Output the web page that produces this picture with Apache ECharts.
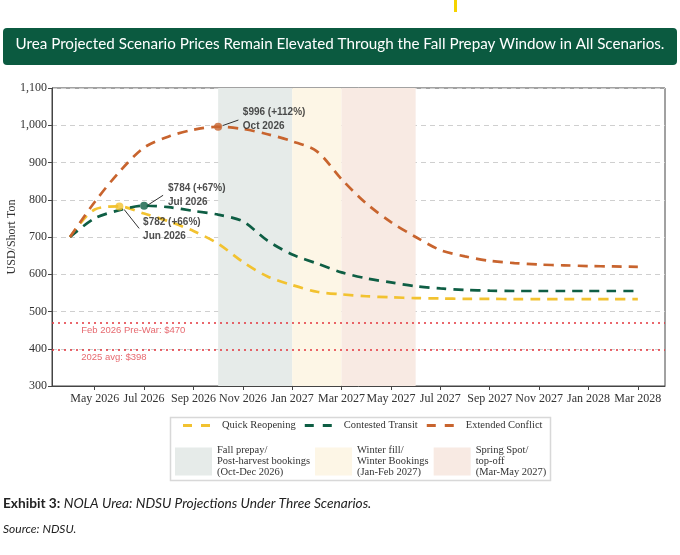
<!DOCTYPE html>
<html>
<head>
<meta charset="utf-8">
<script src="https://cdn.jsdelivr.net/npm/echarts@6/dist/echarts.min.js"></script>
<style>
  html, body { margin: 0; padding: 0; background: #fff; }
  #chart { width: 680px; height: 555px; }
</style>
</head>
<body>
<div id="chart"></div>
<script>
// months from Apr 2026 (index 0) to Mar 2028 (index 23)
var monthIdx = [0,1,2,3,4,5,6,7,8,9,10,11,12,13,14,15,16,17,18,19,20,21,22,23];
var tickVals = [1,3,5,7,9,11,13,15,17,19,21,23];
var tickLabels = ['May 2026','Jul 2026','Sep 2026','Nov 2026','Jan 2027','Mar 2027',
                  'May 2027','Jul 2027','Sep 2027','Nov 2027','Jan 2028','Mar 2028'];

var seriesNames = ['Quick Reopening','Contested Transit','Extended Conflict'];
var quick     = [700,774,782,763,742,716,682,633,594,571,553,546,541,538,536,535,534,534,533,533,533,533,533,533];
var contested = [700,750,772,784,780,770,760,742,690,653,629,605,589,578,568,562,558,556,555,555,555,555,555,555];
var extended  = [700,794,875,940,970,988,996,990,976,957,930,855,790,740,700,665,648,636,630,626,624,622,621,620];

// shaded windows [from, to] in month index
var windowNames = ['Fall prepay','Winter fill','Spring Spot'];
var windowLabels = ['Fall prepay/\nPost-harvest bookings\n(Oct-Dec 2026)',
                    'Winter fill/\nWinter Bookings\n(Jan-Feb 2027)',
                    'Spring Spot/\ntop-off\n(Mar-May 2027)'];
var windowRanges = [[6, 9], [9, 11], [11, 14]];

// reference levels
var refValues = [470, 398];
var refLabels = ['Feb 2026 Pre-War: $470', '2025 avg: $398'];

// peaks: [month index, value]
var peaks = [[2, 782], [3, 784], [6, 996]];
var peakText = ['$782 (+66%)\nJun 2026', '$784 (+67%)\nJul 2026', '$996 (+112%)\nOct 2026'];
var peakTextAt = [[2.96, 721], [3.97, 813], [7.0, 1016]];
var arrowFrom = [[2.8, 723], [3.77, 812], [6.82, 1014]];
var arrowTo = [[2.19, 774], [3.16, 786], [6.18, 999]];

var colors = ['#F2C230', '#0E5E44', '#C8642E'];
var windowColors = ['#E6EBE9', '#FDF6E6', '#F8EAE3'];

var serif = '"Liberation Serif", "DejaVu Serif", serif';
var sans = '"Liberation Sans", Arial, sans-serif';
var dashIcon = 'path://M0,0h9v3h-9z M18,0h9v3h-9z';

var chart = echarts.init(document.getElementById('chart'));

function zipLine(vals) {
    return monthIdx.map(function (m, i) { return [m, vals[i]]; });
}

var lineData = [quick, contested, extended];
var series = [];

lineData.forEach(function (vals, i) {
    var s = {
        name: seriesNames[i],
        type: 'line',
        data: zipLine(vals),
        smooth: 0.3,
        showSymbol: false,
        symbol: 'none',
        z: 3,
        itemStyle: { color: colors[i] },
        lineStyle: { color: colors[i], width: 2.7, type: [10, 7] }
    };
    if (i === 0) {
        s.markArea = {
            silent: true,
            z: 0,
            data: windowRanges.map(function (r, k) {
                return [{ xAxis: r[0], itemStyle: { color: windowColors[k] } }, { xAxis: r[1] }];
            })
        };
        s.markLine = {
            silent: true,
            symbol: 'none',
            label: { show: false },
            lineStyle: { color: '#E3343C', width: 1.5, type: [2, 4] },
            data: refValues.map(function (v) { return { yAxis: v }; })
        };
    }
    series.push(s);
});

// dummy series for the window legend
windowNames.forEach(function (n, k) {
    series.push({ name: n, type: 'bar', data: [], itemStyle: { color: windowColors[k] } });
});

// peak dots
series.push({
    type: 'scatter',
    symbolSize: 8,
    z: 5,
    data: peaks.map(function (p, i) { return { value: p, itemStyle: { color: colors[i] } }; })
});

// annotation text
series.push({
    type: 'scatter',
    symbolSize: 0,
    silent: true,
    z: 6,
    data: peakTextAt.map(function (p, i) { return { value: p, label: { formatter: peakText[i] } }; }),
    label: {
        show: true, position: 'right', distance: 0,
        fontFamily: sans, fontSize: 10, fontWeight: 'bold', color: '#222', lineHeight: 14
    },
    markLine: {
        silent: true,
        symbolSize: [0, 6],
        label: { show: false },
        lineStyle: { color: '#333', width: 1, type: 'solid' },
        data: arrowFrom.map(function (a, i) {
            return [{ coord: a, symbol: 'none' }, { coord: arrowTo[i], symbol: 'arrow' }];
        })
    }
});

// reference labels
series.push({
    type: 'scatter',
    symbolSize: 0,
    silent: true,
    data: [[0.45, 450, 0], [0.45, 377, 1]],
    label: {
        show: true, position: 'right', distance: 0,
        fontFamily: sans, fontSize: 9.5, color: '#E0434B',
        formatter: function (p) { return refLabels[p.value[2]]; }
    }
});

var option = {
    animation: false,
    backgroundColor: '#fff',
    grid: {
        left: 52, right: 15, top: 88, bottom: 169,
        outerBoundsMode: 'none',
        containLabel: false,
        show: true, borderColor: '#444', borderWidth: 1, backgroundColor: 'transparent'
    },
    xAxis: {
        type: 'value',
        min: -0.73,
        max: 24.1,
        splitLine: { show: false },
        axisLine: { show: true, onZero: false, lineStyle: { color: '#444' } },
        axisTick: { show: true, customValues: tickVals, length: 4, lineStyle: { color: '#444' } },
        axisLabel: {
            customValues: tickVals,
            fontFamily: serif, fontSize: 12, color: '#333', margin: 7,
            formatter: function (v) { return tickLabels[tickVals.indexOf(v)]; }
        }
    },
    yAxis: {
        type: 'value',
        min: 300,
        max: 1100,
        interval: 100,
        name: 'USD/Short Ton',
        nameLocation: 'middle',
        nameGap: 34,
        nameMoveOverlap: false,
        nameTextStyle: { fontFamily: serif, fontSize: 12, color: '#333' },
        axisLine: { show: true, onZero: false, lineStyle: { color: '#444' } },
        axisTick: { show: true, length: 4, lineStyle: { color: '#444' } },
        axisLabel: {
            fontFamily: serif, fontSize: 12, color: '#333', margin: 5,
            formatter: function (v) { return v.toLocaleString('en-US'); }
        },
        splitLine: { lineStyle: { color: '#cfcfcf', type: [5, 4] } }
    },
    legend: [
        {
            data: seriesNames.map(function (n) { return { name: n, icon: dashIcon }; }),
            selectedMode: false,
            left: 183, top: 420, padding: 0,
            itemWidth: 27, itemHeight: 3, itemGap: 9,
            textStyle: { fontFamily: serif, fontSize: 10.5, color: '#333', padding: [0, 0, 0, 7] }
        },
        {
            data: windowNames,
            selectedMode: false,
            left: 175, top: 445, padding: 0,
            icon: 'rect',
            itemWidth: 37, itemHeight: 28, itemGap: 5,
            formatter: function (n) { return windowLabels[windowNames.indexOf(n)]; },
            textStyle: { fontFamily: serif, fontSize: 10.5, color: '#333', lineHeight: 11 }
        }
    ],
    graphic: [
        { type: 'rect', left: 454, top: 0, shape: { width: 3, height: 12 }, style: { fill: '#F5D300' } },
        {
            type: 'rect', left: 3, top: 28,
            shape: { width: 674, height: 37, r: 4 },
            style: { fill: '#0B5A40' }
        },
        {
            type: 'text', left: 'center', top: 37,
            style: {
                text: 'Urea Projected Scenario Prices Remain Elevated Through the Fall Prepay Window in All Scenarios.',
                fill: '#fff', fontFamily: 'Lato, "Open Sans", sans-serif', fontSize: 15.2
            }
        },
        {
            type: 'rect', left: 168, top: 415,
            shape: { width: 380, height: 63 },
            style: { fill: 'none', stroke: '#d8d8d8', lineWidth: 1.5 }
        },
        {
            type: 'text', left: 3, top: 497,
            style: {
                text: '{b|Exhibit 3:} {i|NOLA Urea: NDSU Projections Under Three Scenarios.}',
                rich: {
                    b: { fontFamily: 'Lato, sans-serif', fontSize: 13.7, fontWeight: 'bold', fill: '#222' },
                    i: { fontFamily: 'Lato, sans-serif', fontSize: 13.7, fontStyle: 'italic', fill: '#222' }
                }
            }
        },
        {
            type: 'text', left: 3, top: 523,
            style: {
                text: 'Source: NDSU.',
                fill: '#222', fontFamily: 'Lato, sans-serif', fontSize: 12, fontStyle: 'italic'
            }
        }
    ],
    series: series
};

chart.setOption(option);
</script>
</body>
</html>
